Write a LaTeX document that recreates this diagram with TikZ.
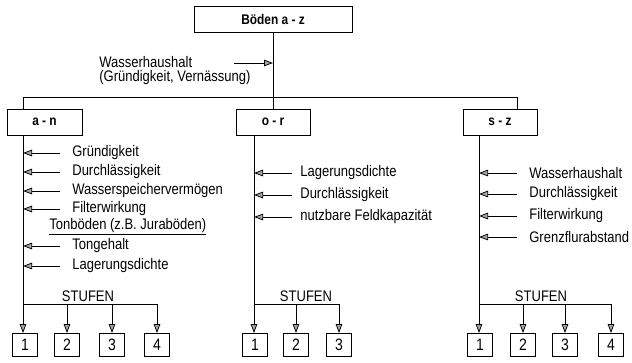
\documentclass[tikz,border=0pt]{standalone}
\usepackage{fontspec}
\setmainfont{Liberation Sans}[FakeStretch=0.85]
\usetikzlibrary{arrows.meta}
\begin{document}
\begin{tikzpicture}[x=1pt,y=-1pt, line width=0.75pt,
 box/.style={draw, line width=0.9pt, minimum height=26pt, inner sep=0, font=\bfseries\fontsize{14}{16}\selectfont},
 nbox/.style={draw, line width=0.85pt, minimum width=25pt, minimum height=23pt, inner sep=0, font=\fontsize{16.5}{18}\selectfont},
 lbl/.style={inner sep=0, anchor=west, font=\fontsize{15.3}{17}\selectfont},
 stlbl/.style={inner sep=0, font=\fontsize{15.3}{17}\selectfont},
 arr/.style={-{Triangle[length=9pt,width=6.5pt,fill=gray!70]}},
]
\useasboundingbox (0,0) rectangle (632,363);
% top
\node[box, minimum width=158pt] (top) at (273,19) {Böden a - z};
\node[box, minimum width=75pt] (an) at (44.5,122) {a - n};
\node[box, minimum width=74pt] (or) at (273,122) {o - r};
\node[box, minimum width=74pt] (sz) at (500,122) {s - z};
\coordinate (dl) at (23,97);
\coordinate (dr) at (517,97);
\draw (top.south) -- (or.north);
\draw (an.north -| dl) -- (dl) -- (dr) -- (sz.north -| dr);
\node[lbl] (wh) at (99,62) {Wasserhaushalt};
\node[lbl] (wh2) at (99,78) {(Gründigkeit, Vernässung)};
\coordinate (wa) at (234,63);
\draw[arr] (wa) -- (wa -| top.south);

% spines
\coordinate (sa) at (23,135);
\coordinate (sb) at (254,135);
\coordinate (sc) at (479,135);

% left column labels
\foreach \t/\y/\n in {Gründigkeit/153/a1, Durchlässigkeit/172/a2, Wasserspeichervermögen/191/a3, Filterwirkung/209/a4, Tongehalt/246/a5, Lagerungsdichte/266/a6}{
  \node[lbl] (\n) at (72,\y) {\t};
  \draw[arr] ([xshift=-12pt]\n.west) -- (\n.west -| sa);
}
\node[lbl] (ton) at (49,227) {\underline{Tonböden (z.B. Juraböden)}};

% middle column labels
\foreach \t/\y/\n in {Lagerungsdichte/173/m1, Durchlässigkeit/195/m2, nutzbare Feldkapazität/217/m3}{
  \node[lbl] (\n) at (300,\y) {\t};
  \draw[arr] ([xshift=-8pt]\n.west) -- (\n.west -| sb);
}

% right column labels
\foreach \t/\y/\n in {Wasserhaushalt/173/r1, Durchlässigkeit/194/r2, Filterwirkung/216/r3, Grenzflurabstand/237/r4}{
  \node[lbl] (\n) at (529,\y) {\t};
  \draw[arr] ([xshift=-12pt]\n.west) -- (\n.west -| sc);
}

% left stufen
\node[nbox] (l1) at (25,345) {1};
\node[nbox] (l2) at (67,345) {2};
\node[nbox] (l3) at (112,345) {3};
\node[nbox] (l4) at (157,345) {4};
\coordinate (ba) at (23,304);
\node[stlbl] (sta) at (88,296) {STUFEN};
\draw[arr] (an.south -| sa) -- (l1.north -| sa);
\draw (ba) -- (ba -| l4.north);
\foreach \b in {l2,l3,l4}{\draw[arr] (ba -| \b.north) -- (\b.north);}

% middle stufen
\node[nbox] (m1b) at (255,345) {1};
\node[nbox] (m2b) at (296,345) {2};
\node[nbox] (m3b) at (339,345) {3};
\coordinate (bb) at (254,304);
\node[stlbl] (stb) at (306,296) {STUFEN};
\draw[arr] (or.south -| sb) -- (m1b.north -| sb);
\draw (bb) -- (bb -| m3b.north);
\foreach \b in {m2b,m3b}{\draw[arr] (bb -| \b.north) -- (\b.north);}

% right stufen
\node[nbox] (r1b) at (480,345) {1};
\node[nbox] (r2b) at (523,345) {2};
\node[nbox] (r3b) at (565,345) {3};
\node[nbox] (r4b) at (611,345) {4};
\coordinate (bc) at (479,304);
\node[stlbl] (stc) at (541,296) {STUFEN};
\draw[arr] (sz.south -| sc) -- (r1b.north -| sc);
\draw (bc) -- (bc -| r4b.north);
\foreach \b in {r2b,r3b,r4b}{\draw[arr] (bc -| \b.north) -- (\b.north);}
\end{tikzpicture}
\end{document}
